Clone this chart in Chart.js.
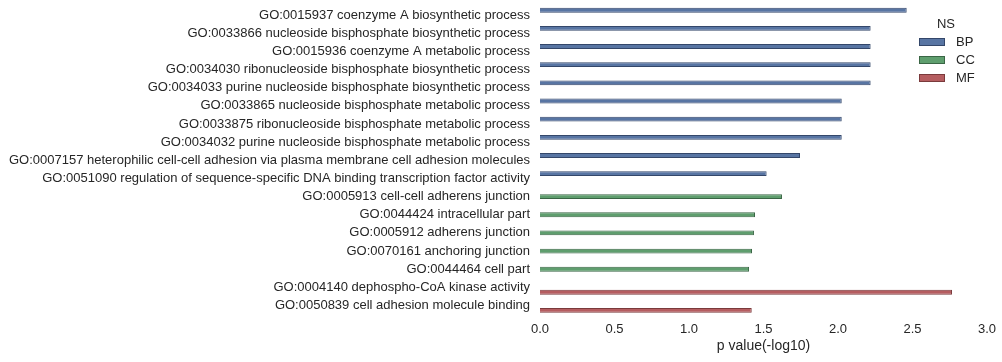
<!DOCTYPE html>
<html>
<head>
<meta charset="utf-8">
<script src="https://cdn.jsdelivr.net/npm/chart.js@4/dist/chart.umd.min.js"></script>
<style>
  html, body { margin: 0; padding: 0; background: #ffffff; }
  #wrap { width: 1002px; height: 362px; position: relative; }
</style>
</head>
<body>
<div id="wrap"><canvas id="c" width="1002" height="362"></canvas></div>
<script>
// ---- data ----
const categories = [
  "GO:0015937 coenzyme A biosynthetic process",
  "GO:0033866 nucleoside bisphosphate biosynthetic process",
  "GO:0015936 coenzyme A metabolic process",
  "GO:0034030 ribonucleoside bisphosphate biosynthetic process",
  "GO:0034033 purine nucleoside bisphosphate biosynthetic process",
  "GO:0033865 nucleoside bisphosphate metabolic process",
  "GO:0033875 ribonucleoside bisphosphate metabolic process",
  "GO:0034032 purine nucleoside bisphosphate metabolic process",
  "GO:0007157 heterophilic cell-cell adhesion via plasma membrane cell adhesion molecules",
  "GO:0051090 regulation of sequence-specific DNA binding transcription factor activity",
  "GO:0005913 cell-cell adherens junction",
  "GO:0044424 intracellular part",
  "GO:0005912 adherens junction",
  "GO:0070161 anchoring junction",
  "GO:0044464 cell part",
  "GO:0004140 dephospho-CoA kinase activity",
  "GO:0050839 cell adhesion molecule binding"
];
const nsGroup = ["BP","BP","BP","BP","BP","BP","BP","BP","BP","BP","CC","CC","CC","CC","CC","MF","MF"];
const pValues = [2.461, 2.219, 2.219, 2.219, 2.219, 2.025, 2.025, 2.025, 1.745, 1.521,
                 1.624, 1.443, 1.436, 1.423, 1.403, 2.765, 1.421];
const nsNames = ["BP", "CC", "MF"];
const nsColors = ["#5875A3", "#5F9E6E", "#B55D60"];
const nsEdges = ["#34476a", "#3a6645", "#7a3a3c"];
const xTicks = [0.0, 0.5, 1.0, 1.5, 2.0, 2.5, 3.0];

const datasets = nsNames.map((ns, i) => ({
  label: ns,
  data: pValues.map((v, j) => nsGroup[j] === ns ? v : null),
  backgroundColor: nsColors[i],
  borderColor: nsEdges[i],
  borderWidth: 1,
  categoryPercentage: 0.8,
  barPercentage: 1.0
}));

const FONT = "'Liberation Sans', Arial, sans-serif";
const TXT = "#262626";

const legendPlugin = {
  id: 'nsLegend',
  afterDraw(chart) {
    const ctx = chart.ctx;
    ctx.save();
    ctx.font = "13px " + FONT;
    ctx.fillStyle = TXT;
    ctx.textAlign = "center";
    ctx.textBaseline = "middle";
    ctx.fillText("NS", 946, 24);
    nsNames.forEach((ns, i) => {
      const y = 42 + i * 18;
      ctx.fillStyle = nsColors[i];
      ctx.fillRect(919, y - 4, 26, 8);
      ctx.strokeStyle = nsEdges[i];
      ctx.lineWidth = 1;
      ctx.strokeRect(919.5, y - 3.5, 25, 7);
      ctx.fillStyle = TXT;
      ctx.textAlign = "left";
      ctx.fillText(ns, 956, y);
    });
    ctx.restore();
  }
};

new Chart(document.getElementById('c'), {
  type: 'bar',
  data: { labels: categories, datasets: datasets },
  options: {
    indexAxis: 'y',
    responsive: false,
    animation: false,
    layout: { padding: { top: 6, right: 15, left: 0, bottom: 0 } },
    plugins: { legend: { display: false }, tooltip: { enabled: false } },
    scales: {
      x: {
        min: 0, max: 3,
        afterBuildTicks: (s) => { s.ticks = xTicks.map(v => ({ value: v })); },
        afterFit: (s) => { s.height = 47.4; s.paddingLeft = 0; s.paddingRight = 0; },
        grid: { display: false, drawTicks: false },
        border: { display: false },
        ticks: {
          padding: 7,
          color: TXT,
          font: { family: FONT, size: 13 },
          callback: (v) => Number(v).toFixed(1)
        },
        title: {
          display: true,
          text: "p value(-log10)",
          color: TXT,
          font: { family: FONT, size: 14 },
          padding: { top: 0, bottom: 7 }
        }
      },
      y: {
        afterFit: (s) => { s.width = 540; s.paddingTop = 0; s.paddingBottom = 0; },
        grid: { display: false, drawTicks: false },
        border: { display: false },
        ticks: {
          padding: 10,
          color: TXT,
          autoSkip: false,
          font: { family: FONT, size: 13 }
        }
      }
    }
  },
  plugins: [legendPlugin]
});
</script>
</body>
</html>
